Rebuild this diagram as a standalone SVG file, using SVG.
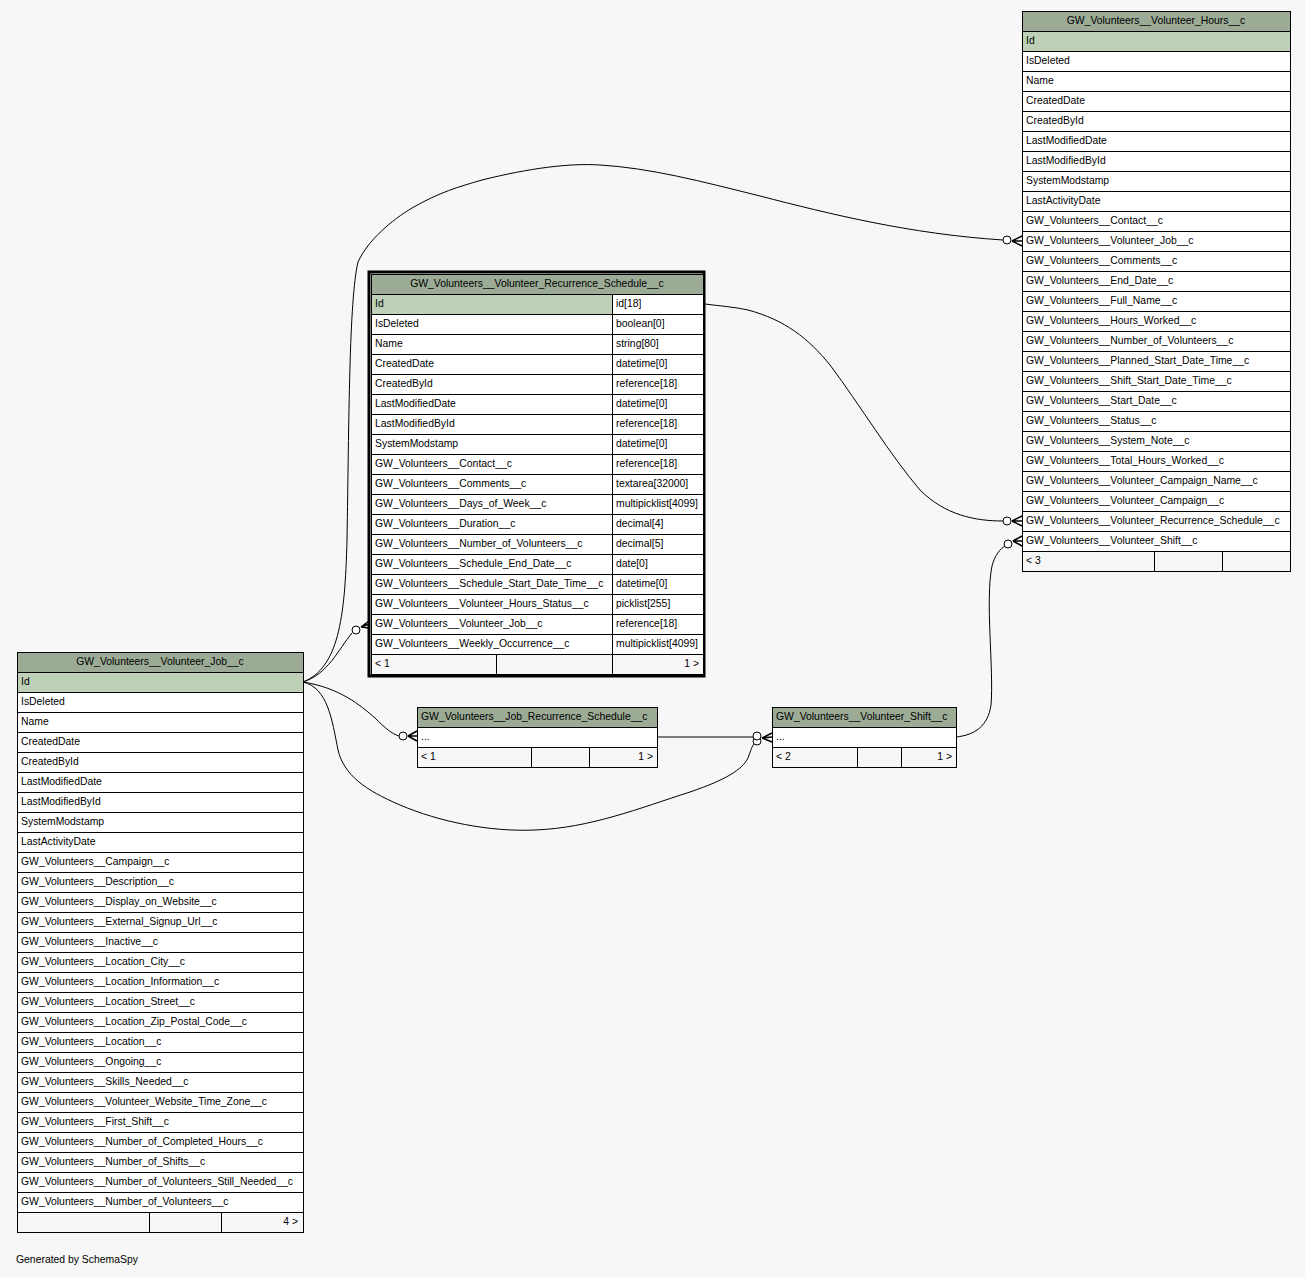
<svg xmlns="http://www.w3.org/2000/svg" width="1305" height="1277" viewBox="0 0 1305 1277">
<style>
  text { font-family: "Liberation Sans", Arial, sans-serif; font-size: 10.4px; fill: #000; }
  .c { text-anchor: middle; }
  .r { text-anchor: end; }
  .hd { fill: #9bab96; stroke: #000; stroke-width: 1; }
  .pk { fill: #bed1b8; stroke: #000; stroke-width: 1; }
  .rw { fill: #ffffff; stroke: #000; stroke-width: 1; }
  .ft { fill: #f7f7f7; stroke: #000; stroke-width: 1; }
  .edge { fill: none; stroke: #000; stroke-width: 1; }
  .odot { fill: #fff; stroke: #000; stroke-width: 1; }
  .crow { fill: none; stroke: #000; stroke-width: 1.5; }
</style>
<rect width="1305" height="1277" fill="#f7f7f7"/>

<!-- relationship lines -->
<g id="connectors">
  <!-- Volunteer_Hours.Volunteer_Job -> Volunteer_Job.Id -->
  <path class="edge" d="M303,682 C338,668 345,620 347,540 C349,420 349,300 358,262 C368,240 392,220 412,208 C440,192 458,187 482,180 C530,168 570,163 600,165 C650,168 700,181 760,196 C830,214 910,234 1003,240"/>
  <circle class="odot" cx="1007" cy="240" r="4"/>
  <path class="crow" d="M1012,241 L1022,236 M1012,241 L1022,241 M1012,241 L1022,246"/>

  <!-- Volunteer_Recurrence_Schedule.Volunteer_Job -> Volunteer_Job.Id -->
  <path class="edge" d="M303,682 C328,674 338,650 352,633"/>
  <circle class="odot" cx="356" cy="630" r="4"/>
  <path class="crow" d="M361,627 L369,621 M361,627 L369,624 M361,627 L369,628"/>

  <!-- Job_Recurrence_Schedule -> Volunteer_Job.Id -->
  <path class="edge" d="M303,682 C340,688 360,705 375,718 C385,728 392,734 399,736"/>
  <circle class="odot" cx="403" cy="736" r="4"/>
  <path class="crow" d="M408,736 L417,731 M408,736 L417,736 M408,736 L417,741"/>

  <!-- Volunteer_Shift -> Volunteer_Job.Id -->
  <path class="edge" d="M303,682 C328,688 332,720 338,750 C344,775 365,790 400,805 C440,822 490,832 535,830 C590,828 640,808 690,792 C725,780 742,770 748,758 C751,750 752,746 754,744"/>
  <circle class="odot" cx="757" cy="741" r="4"/>

  <!-- Volunteer_Shift -> Job_Recurrence_Schedule -->
  <path class="edge" d="M657,737 L753,737"/>
  <circle class="odot" cx="757" cy="736" r="4"/>
  <path class="crow" d="M762,738 L772,733 M762,738 L772,737 M762,738 L772,742"/>

  <!-- Volunteer_Hours.Volunteer_Recurrence_Schedule -> Volunteer_Recurrence_Schedule.Id -->
  <path class="edge" d="M705,304 C720,306 735,307 748,310 C785,320 808,338 830,365 C860,405 890,455 920,490 C945,515 975,521 1003,521"/>
  <circle class="odot" cx="1007" cy="521" r="4"/>
  <path class="crow" d="M1012,521 L1022,516 M1012,521 L1022,521 M1012,521 L1022,526"/>

  <!-- Volunteer_Hours.Volunteer_Shift -> Volunteer_Shift -->
  <path class="edge" d="M956,737 C975,735 988,726 991,705 C994,670 985,600 992,566 C995,555 1000,549 1005,546"/>
  <circle class="odot" cx="1008" cy="544" r="4"/>
  <path class="crow" d="M1013,541 L1022,536 M1013,541 L1022,541 M1013,541 L1022,546"/>
</g>

<!-- GW_Volunteers__Volunteer_Hours__c -->
<g id="volunteer_hours">
  <rect class="hd" x="1022.5" y="11.5" width="268" height="20"/>
  <text class="c" x="1156" y="24">GW_Volunteers__Volunteer_Hours__c</text>
  <rect class="pk" x="1022.5" y="31.5" width="268" height="20"/><text x="1026" y="44">Id</text>
  <rect class="rw" x="1022.5" y="51.5" width="268" height="20"/><text x="1026" y="64">IsDeleted</text>
  <rect class="rw" x="1022.5" y="71.5" width="268" height="20"/><text x="1026" y="84">Name</text>
  <rect class="rw" x="1022.5" y="91.5" width="268" height="20"/><text x="1026" y="104">CreatedDate</text>
  <rect class="rw" x="1022.5" y="111.5" width="268" height="20"/><text x="1026" y="124">CreatedById</text>
  <rect class="rw" x="1022.5" y="131.5" width="268" height="20"/><text x="1026" y="144">LastModifiedDate</text>
  <rect class="rw" x="1022.5" y="151.5" width="268" height="20"/><text x="1026" y="164">LastModifiedById</text>
  <rect class="rw" x="1022.5" y="171.5" width="268" height="20"/><text x="1026" y="184">SystemModstamp</text>
  <rect class="rw" x="1022.5" y="191.5" width="268" height="20"/><text x="1026" y="204">LastActivityDate</text>
  <rect class="rw" x="1022.5" y="211.5" width="268" height="20"/><text x="1026" y="224">GW_Volunteers__Contact__c</text>
  <rect class="rw" x="1022.5" y="231.5" width="268" height="20"/><text x="1026" y="244">GW_Volunteers__Volunteer_Job__c</text>
  <rect class="rw" x="1022.5" y="251.5" width="268" height="20"/><text x="1026" y="264">GW_Volunteers__Comments__c</text>
  <rect class="rw" x="1022.5" y="271.5" width="268" height="20"/><text x="1026" y="284">GW_Volunteers__End_Date__c</text>
  <rect class="rw" x="1022.5" y="291.5" width="268" height="20"/><text x="1026" y="304">GW_Volunteers__Full_Name__c</text>
  <rect class="rw" x="1022.5" y="311.5" width="268" height="20"/><text x="1026" y="324">GW_Volunteers__Hours_Worked__c</text>
  <rect class="rw" x="1022.5" y="331.5" width="268" height="20"/><text x="1026" y="344">GW_Volunteers__Number_of_Volunteers__c</text>
  <rect class="rw" x="1022.5" y="351.5" width="268" height="20"/><text x="1026" y="364">GW_Volunteers__Planned_Start_Date_Time__c</text>
  <rect class="rw" x="1022.5" y="371.5" width="268" height="20"/><text x="1026" y="384">GW_Volunteers__Shift_Start_Date_Time__c</text>
  <rect class="rw" x="1022.5" y="391.5" width="268" height="20"/><text x="1026" y="404">GW_Volunteers__Start_Date__c</text>
  <rect class="rw" x="1022.5" y="411.5" width="268" height="20"/><text x="1026" y="424">GW_Volunteers__Status__c</text>
  <rect class="rw" x="1022.5" y="431.5" width="268" height="20"/><text x="1026" y="444">GW_Volunteers__System_Note__c</text>
  <rect class="rw" x="1022.5" y="451.5" width="268" height="20"/><text x="1026" y="464">GW_Volunteers__Total_Hours_Worked__c</text>
  <rect class="rw" x="1022.5" y="471.5" width="268" height="20"/><text x="1026" y="484">GW_Volunteers__Volunteer_Campaign_Name__c</text>
  <rect class="rw" x="1022.5" y="491.5" width="268" height="20"/><text x="1026" y="504">GW_Volunteers__Volunteer_Campaign__c</text>
  <rect class="rw" x="1022.5" y="511.5" width="268" height="20"/><text x="1026" y="524">GW_Volunteers__Volunteer_Recurrence_Schedule__c</text>
  <rect class="rw" x="1022.5" y="531.5" width="268" height="20"/><text x="1026" y="544">GW_Volunteers__Volunteer_Shift__c</text>
  <rect class="ft" x="1022.5" y="551.5" width="132" height="20"/>
  <rect class="ft" x="1154.5" y="551.5" width="68" height="20"/>
  <rect class="ft" x="1222.5" y="551.5" width="68" height="20"/>
  <text x="1026" y="564">&lt; 3</text>
</g>

<!-- GW_Volunteers__Volunteer_Recurrence_Schedule__c (focus table) -->
<g id="volunteer_recurrence_schedule">
  <rect x="369" y="272" width="335" height="404" fill="none" stroke="#000" stroke-width="3"/>
  <rect class="hd" x="371.5" y="274.5" width="332" height="20"/>
  <text class="c" x="537" y="287">GW_Volunteers__Volunteer_Recurrence_Schedule__c</text>
  <rect class="pk" x="371.5" y="294.5" width="241" height="20"/><rect class="rw" x="612.5" y="294.5" width="91" height="20"/><text x="375" y="307">Id</text><text x="616" y="307">id[18]</text>
  <rect class="rw" x="371.5" y="314.5" width="241" height="20"/><rect class="rw" x="612.5" y="314.5" width="91" height="20"/><text x="375" y="327">IsDeleted</text><text x="616" y="327">boolean[0]</text>
  <rect class="rw" x="371.5" y="334.5" width="241" height="20"/><rect class="rw" x="612.5" y="334.5" width="91" height="20"/><text x="375" y="347">Name</text><text x="616" y="347">string[80]</text>
  <rect class="rw" x="371.5" y="354.5" width="241" height="20"/><rect class="rw" x="612.5" y="354.5" width="91" height="20"/><text x="375" y="367">CreatedDate</text><text x="616" y="367">datetime[0]</text>
  <rect class="rw" x="371.5" y="374.5" width="241" height="20"/><rect class="rw" x="612.5" y="374.5" width="91" height="20"/><text x="375" y="387">CreatedById</text><text x="616" y="387">reference[18]</text>
  <rect class="rw" x="371.5" y="394.5" width="241" height="20"/><rect class="rw" x="612.5" y="394.5" width="91" height="20"/><text x="375" y="407">LastModifiedDate</text><text x="616" y="407">datetime[0]</text>
  <rect class="rw" x="371.5" y="414.5" width="241" height="20"/><rect class="rw" x="612.5" y="414.5" width="91" height="20"/><text x="375" y="427">LastModifiedById</text><text x="616" y="427">reference[18]</text>
  <rect class="rw" x="371.5" y="434.5" width="241" height="20"/><rect class="rw" x="612.5" y="434.5" width="91" height="20"/><text x="375" y="447">SystemModstamp</text><text x="616" y="447">datetime[0]</text>
  <rect class="rw" x="371.5" y="454.5" width="241" height="20"/><rect class="rw" x="612.5" y="454.5" width="91" height="20"/><text x="375" y="467">GW_Volunteers__Contact__c</text><text x="616" y="467">reference[18]</text>
  <rect class="rw" x="371.5" y="474.5" width="241" height="20"/><rect class="rw" x="612.5" y="474.5" width="91" height="20"/><text x="375" y="487">GW_Volunteers__Comments__c</text><text x="616" y="487">textarea[32000]</text>
  <rect class="rw" x="371.5" y="494.5" width="241" height="20"/><rect class="rw" x="612.5" y="494.5" width="91" height="20"/><text x="375" y="507">GW_Volunteers__Days_of_Week__c</text><text x="616" y="507">multipicklist[4099]</text>
  <rect class="rw" x="371.5" y="514.5" width="241" height="20"/><rect class="rw" x="612.5" y="514.5" width="91" height="20"/><text x="375" y="527">GW_Volunteers__Duration__c</text><text x="616" y="527">decimal[4]</text>
  <rect class="rw" x="371.5" y="534.5" width="241" height="20"/><rect class="rw" x="612.5" y="534.5" width="91" height="20"/><text x="375" y="547">GW_Volunteers__Number_of_Volunteers__c</text><text x="616" y="547">decimal[5]</text>
  <rect class="rw" x="371.5" y="554.5" width="241" height="20"/><rect class="rw" x="612.5" y="554.5" width="91" height="20"/><text x="375" y="567">GW_Volunteers__Schedule_End_Date__c</text><text x="616" y="567">date[0]</text>
  <rect class="rw" x="371.5" y="574.5" width="241" height="20"/><rect class="rw" x="612.5" y="574.5" width="91" height="20"/><text x="375" y="587">GW_Volunteers__Schedule_Start_Date_Time__c</text><text x="616" y="587">datetime[0]</text>
  <rect class="rw" x="371.5" y="594.5" width="241" height="20"/><rect class="rw" x="612.5" y="594.5" width="91" height="20"/><text x="375" y="607">GW_Volunteers__Volunteer_Hours_Status__c</text><text x="616" y="607">picklist[255]</text>
  <rect class="rw" x="371.5" y="614.5" width="241" height="20"/><rect class="rw" x="612.5" y="614.5" width="91" height="20"/><text x="375" y="627">GW_Volunteers__Volunteer_Job__c</text><text x="616" y="627">reference[18]</text>
  <rect class="rw" x="371.5" y="634.5" width="241" height="20"/><rect class="rw" x="612.5" y="634.5" width="91" height="20"/><text x="375" y="647">GW_Volunteers__Weekly_Occurrence__c</text><text x="616" y="647">multipicklist[4099]</text>
  <rect class="ft" x="371.5" y="654.5" width="125" height="20"/>
  <rect class="ft" x="496.5" y="654.5" width="116" height="20"/>
  <rect class="ft" x="612.5" y="654.5" width="91" height="20"/>
  <text x="375" y="667">&lt; 1</text>
  <text class="r" x="699" y="667">1 &gt;</text>
</g>

<!-- GW_Volunteers__Volunteer_Job__c -->
<g id="volunteer_job">
  <rect class="hd" x="17.5" y="652.5" width="286" height="20"/>
  <text class="c" x="160" y="665">GW_Volunteers__Volunteer_Job__c</text>
  <rect class="pk" x="17.5" y="672.5" width="286" height="20"/><text x="21" y="685">Id</text>
  <rect class="rw" x="17.5" y="692.5" width="286" height="20"/><text x="21" y="705">IsDeleted</text>
  <rect class="rw" x="17.5" y="712.5" width="286" height="20"/><text x="21" y="725">Name</text>
  <rect class="rw" x="17.5" y="732.5" width="286" height="20"/><text x="21" y="745">CreatedDate</text>
  <rect class="rw" x="17.5" y="752.5" width="286" height="20"/><text x="21" y="765">CreatedById</text>
  <rect class="rw" x="17.5" y="772.5" width="286" height="20"/><text x="21" y="785">LastModifiedDate</text>
  <rect class="rw" x="17.5" y="792.5" width="286" height="20"/><text x="21" y="805">LastModifiedById</text>
  <rect class="rw" x="17.5" y="812.5" width="286" height="20"/><text x="21" y="825">SystemModstamp</text>
  <rect class="rw" x="17.5" y="832.5" width="286" height="20"/><text x="21" y="845">LastActivityDate</text>
  <rect class="rw" x="17.5" y="852.5" width="286" height="20"/><text x="21" y="865">GW_Volunteers__Campaign__c</text>
  <rect class="rw" x="17.5" y="872.5" width="286" height="20"/><text x="21" y="885">GW_Volunteers__Description__c</text>
  <rect class="rw" x="17.5" y="892.5" width="286" height="20"/><text x="21" y="905">GW_Volunteers__Display_on_Website__c</text>
  <rect class="rw" x="17.5" y="912.5" width="286" height="20"/><text x="21" y="925">GW_Volunteers__External_Signup_Url__c</text>
  <rect class="rw" x="17.5" y="932.5" width="286" height="20"/><text x="21" y="945">GW_Volunteers__Inactive__c</text>
  <rect class="rw" x="17.5" y="952.5" width="286" height="20"/><text x="21" y="965">GW_Volunteers__Location_City__c</text>
  <rect class="rw" x="17.5" y="972.5" width="286" height="20"/><text x="21" y="985">GW_Volunteers__Location_Information__c</text>
  <rect class="rw" x="17.5" y="992.5" width="286" height="20"/><text x="21" y="1005">GW_Volunteers__Location_Street__c</text>
  <rect class="rw" x="17.5" y="1012.5" width="286" height="20"/><text x="21" y="1025">GW_Volunteers__Location_Zip_Postal_Code__c</text>
  <rect class="rw" x="17.5" y="1032.5" width="286" height="20"/><text x="21" y="1045">GW_Volunteers__Location__c</text>
  <rect class="rw" x="17.5" y="1052.5" width="286" height="20"/><text x="21" y="1065">GW_Volunteers__Ongoing__c</text>
  <rect class="rw" x="17.5" y="1072.5" width="286" height="20"/><text x="21" y="1085">GW_Volunteers__Skills_Needed__c</text>
  <rect class="rw" x="17.5" y="1092.5" width="286" height="20"/><text x="21" y="1105">GW_Volunteers__Volunteer_Website_Time_Zone__c</text>
  <rect class="rw" x="17.5" y="1112.5" width="286" height="20"/><text x="21" y="1125">GW_Volunteers__First_Shift__c</text>
  <rect class="rw" x="17.5" y="1132.5" width="286" height="20"/><text x="21" y="1145">GW_Volunteers__Number_of_Completed_Hours__c</text>
  <rect class="rw" x="17.5" y="1152.5" width="286" height="20"/><text x="21" y="1165">GW_Volunteers__Number_of_Shifts__c</text>
  <rect class="rw" x="17.5" y="1172.5" width="286" height="20"/><text x="21" y="1185">GW_Volunteers__Number_of_Volunteers_Still_Needed__c</text>
  <rect class="rw" x="17.5" y="1192.5" width="286" height="20"/><text x="21" y="1205">GW_Volunteers__Number_of_Volunteers__c</text>
  <rect class="ft" x="17.5" y="1212.5" width="132" height="20"/>
  <rect class="ft" x="149.5" y="1212.5" width="72" height="20"/>
  <rect class="ft" x="221.5" y="1212.5" width="82" height="20"/>
  <text class="r" x="298" y="1225">4 &gt;</text>
</g>

<!-- GW_Volunteers__Job_Recurrence_Schedule__c -->
<g id="job_recurrence_schedule">
  <rect class="hd" x="417.5" y="707.5" width="240" height="20"/>
  <text x="421" y="720">GW_Volunteers__Job_Recurrence_Schedule__c</text>
  <rect class="rw" x="417.5" y="727.5" width="240" height="20"/><text x="421" y="740">...</text>
  <rect class="ft" x="417.5" y="747.5" width="114" height="20"/>
  <rect class="ft" x="531.5" y="747.5" width="58" height="20"/>
  <rect class="ft" x="589.5" y="747.5" width="68" height="20"/>
  <text x="421" y="760">&lt; 1</text>
  <text class="r" x="653" y="760">1 &gt;</text>
</g>

<!-- GW_Volunteers__Volunteer_Shift__c -->
<g id="volunteer_shift">
  <rect class="hd" x="772.5" y="707.5" width="184" height="20"/>
  <text x="776" y="720">GW_Volunteers__Volunteer_Shift__c</text>
  <rect class="rw" x="772.5" y="727.5" width="184" height="20"/><text x="776" y="740">...</text>
  <rect class="ft" x="772.5" y="747.5" width="85" height="20"/>
  <rect class="ft" x="857.5" y="747.5" width="44" height="20"/>
  <rect class="ft" x="901.5" y="747.5" width="55" height="20"/>
  <text x="776" y="760">&lt; 2</text>
  <text class="r" x="952" y="760">1 &gt;</text>
</g>

<text x="16" y="1263">Generated by SchemaSpy</text>
</svg>
